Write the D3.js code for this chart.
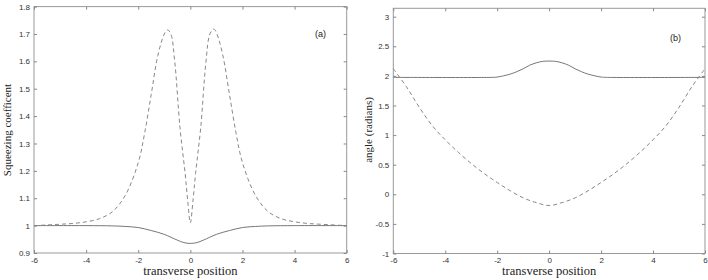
<!DOCTYPE html>
<html>
<head>
<meta charset="utf-8">
<script src="https://cdn.jsdelivr.net/npm/d3@7"></script>
<style>
  body { margin: 0; background: #fff; }
  .tick text { font-family: "Liberation Sans", Arial, sans-serif; font-size: 8px; fill: #333; }
  .tick line { stroke: #888; }
  .domain { display: none; }
  .axis-title { font-family: "Liberation Serif", "Times New Roman", serif; fill: #222; }
</style>
</head>
<body>
<div id="chart"></div>
<script>
// Shared x axis ticks
const xTicks = [-6, -4, -2, 0, 2, 4, 6];

// Panel (a): squeezing coefficient
const aTicks = [0.9, 1, 1.1, 1.2, 1.3, 1.4, 1.5, 1.6, 1.7, 1.8];
const aDashed = [
  [-6, 1.000], [-5, 1.005], [-4.5, 1.008], [-4, 1.014], [-3.5, 1.025], [-3, 1.050],
  [-2.5, 1.11], [-2, 1.23], [-1.75, 1.34], [-1.5, 1.48], [-1.25, 1.62], [-1, 1.70],
  [-0.88, 1.715], [-0.75, 1.70], [-0.6, 1.60], [-0.4, 1.36], [-0.2, 1.19], [-0.1, 1.09],
  [0, 1.01],
  [0.1, 1.09], [0.2, 1.19], [0.4, 1.36], [0.6, 1.60], [0.75, 1.70], [0.9, 1.718],
  [1.02, 1.70], [1.25, 1.62], [1.5, 1.48], [1.75, 1.34], [2, 1.23], [2.5, 1.11],
  [3, 1.050], [3.5, 1.025], [4, 1.014], [4.5, 1.008], [5, 1.005], [6, 1.000]
];
const aSolid = [
  [-6, 1.0], [-4, 1.0], [-3, 0.999], [-2.5, 0.997], [-2, 0.993], [-1.5, 0.982],
  [-1, 0.968], [-0.5, 0.947], [-0.25, 0.938], [0, 0.935],
  [0.25, 0.938], [0.5, 0.947], [1, 0.968], [1.5, 0.982], [2, 0.993], [2.5, 0.997],
  [3, 0.999], [4, 1.0], [6, 1.0]
];

// Panel (b): angle
const bTicks = [-1, -0.5, 0, 0.5, 1, 1.5, 2, 2.5, 3];
const bDashed = [
  [-6, 2.12], [-5.5, 1.82], [-5, 1.47], [-4.5, 1.16], [-4, 0.92], [-3.5, 0.71],
  [-3, 0.52], [-2.5, 0.35], [-2, 0.20], [-1.5, 0.06], [-1, -0.06], [-0.5, -0.14],
  [0, -0.19],
  [0.5, -0.14], [1, -0.06], [1.5, 0.06], [2, 0.20], [2.5, 0.35], [3, 0.52],
  [3.5, 0.71], [4, 0.92], [4.5, 1.16], [5, 1.47], [5.5, 1.82], [6, 2.12]
];
const bSolid = [
  [-6, 1.975], [-2.2, 1.975], [-2, 1.98], [-1.5, 2.03], [-1.25, 2.07], [-1, 2.12],
  [-0.75, 2.18], [-0.5, 2.22], [-0.25, 2.245], [0, 2.25],
  [0.25, 2.245], [0.5, 2.22], [0.75, 2.18], [1, 2.12], [1.25, 2.07], [1.5, 2.03],
  [2, 1.98], [2.2, 1.975], [6, 1.975]
];

const svg = d3.select("#chart").append("svg")
  .attr("width", 708)
  .attr("height", 280);

function panel(opt) {
  const x = d3.scaleLinear().domain([-6, 6]).range([opt.left, opt.right]);
  const y = d3.scaleLinear().domain(opt.yDomain).range([opt.bottom, opt.top]);
  const g = svg.append("g");

  // frame
  g.append("rect")
    .attr("x", opt.left).attr("y", opt.top)
    .attr("width", opt.right - opt.left).attr("height", opt.bottom - opt.top)
    .attr("fill", "none").attr("stroke", "#999").attr("stroke-width", 1);

  // ticks inside on all four sides, labels only left/bottom
  g.append("g").attr("transform", `translate(0,${opt.bottom})`)
    .call(d3.axisBottom(x).tickValues(xTicks).tickSize(-3).tickPadding(4).tickFormat(d => String(d)));
  g.append("g").attr("transform", `translate(0,${opt.top})`)
    .call(d3.axisTop(x).tickValues(xTicks).tickSize(-3).tickFormat(""));
  g.append("g").attr("transform", `translate(${opt.left},0)`)
    .call(d3.axisLeft(y).tickValues(opt.yTicks).tickSize(-3).tickPadding(4).tickFormat(d => String(d)));
  g.append("g").attr("transform", `translate(${opt.right},0)`)
    .call(d3.axisRight(y).tickValues(opt.yTicks).tickSize(-3).tickFormat(""));

  const line = d3.line()
    .x(d => x(d[0]))
    .y(d => y(d[1]))
    .curve(d3.curveCatmullRom.alpha(0.5));

  g.append("path").datum(opt.solid)
    .attr("d", line)
    .attr("fill", "none").attr("stroke", "#777").attr("stroke-width", 1);
  g.append("path").datum(opt.dashed)
    .attr("d", line)
    .attr("fill", "none").attr("stroke", "#888").attr("stroke-width", 1)
    .attr("stroke-dasharray", "4,3");

  // labels
  g.append("text").attr("class", "axis-title")
    .attr("x", (opt.left + opt.right) / 2).attr("y", 275)
    .attr("text-anchor", "middle").style("font-size", "12.5px")
    .text("transverse position");
  g.append("text").attr("class", "axis-title")
    .attr("transform", `translate(${opt.yLabelX},130) rotate(-90)`)
    .attr("text-anchor", "middle").style("font-size", "11px")
    .text(opt.yLabel);
  g.append("text")
    .attr("x", opt.tagX).attr("y", opt.tagY)
    .style("font-family", "Liberation Sans, Arial, sans-serif")
    .style("font-size", "9px").attr("fill", "#222")
    .text(opt.tag);
}

panel({
  left: 34, right: 346.7, top: 6.6, bottom: 253,
  yDomain: [0.9, 1.8], yTicks: aTicks,
  solid: aSolid, dashed: aDashed,
  yLabel: "Squeezing coefficent", yLabelX: 11,
  tag: "(a)", tagX: 315, tagY: 37
});

panel({
  left: 393.3, right: 705, top: 8.3, bottom: 253.5,
  yDomain: [-1, Math.PI], yTicks: bTicks,
  solid: bSolid, dashed: bDashed,
  yLabel: "angle (radians)", yLabelX: 372,
  tag: "(b)", tagX: 670, tagY: 41
});
</script>
</body>
</html>
